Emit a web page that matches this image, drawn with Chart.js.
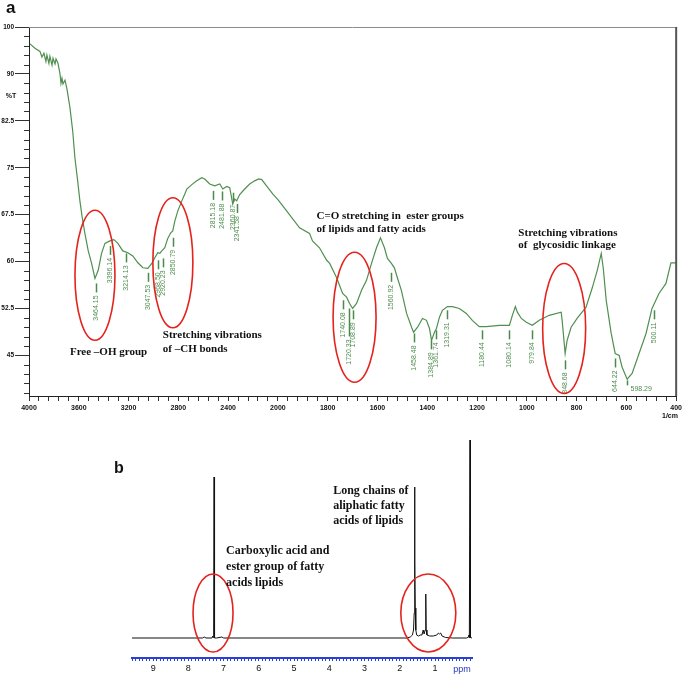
<!DOCTYPE html>
<html>
<head>
<meta charset="utf-8">
<script src="https://cdn.jsdelivr.net/npm/chart.js@4.4.0/dist/chart.umd.min.js"></script>
<style>
  body { margin: 0; background: #fff; }
  #wrap { position: relative; width: 685px; height: 676px; }
  canvas { position: absolute; }
  #ftir { left: 0; top: 0; }
  #nmr { left: 100px; top: 425px; }
</style>
</head>
<body>
<div id="wrap">
  <canvas id="ftir" width="685" height="425"></canvas>
  <canvas id="nmr" width="385" height="251"></canvas>
</div>
<script>
// ---- Panel a: FTIR spectrum (wavenumber in 1/cm, transmittance in %T) ----
const ftirWave = [3992,3952,3912,3896,3880,3864,3856,3840,3832,3815,
  3807,3791,3783,3767,3751,3743,3735,3727,3711,3695,
  3671,3649,3631,3609,3591,3572,3551,3524,3497,3470,
  3444,3417,3390,3350,3318,3286,3246,3206,3166,3125,
  3085,3045,3013,2989,2965,2949,2933,2909,2885,2861,
  2845,2828,2804,2772,2748,2732,2692,2652,2612,2588,
  2548,2508,2467,2443,2411,2387,2363,2347,2331,2307,
  2267,2227,2187,2154,2130,2042,2000,1965,1913,1873,
  1861,1833,1804,1792,1764,1740,1724,1712,1700,1684,
  1664,1644,1624,1604,1588,1572,1560,1544,1532,1520,
  1504,1483,1463,1455,1439,1419,1403,1391,1383,1371,
  1363,1351,1339,1319,1299,1271,1243,1219,1191,1163,
  1110,1070,1058,1046,1038,1022,1002,978,950,910,
  862,858,846,838,822,798,762,737,717,701,
  693,681,661,645,629,617,597,577,549,521,
  497,469,441,421,401];
const ftirT = [94.8,94.1,93.6,92.7,93.3,92.0,93.0,91.7,92.8,91.4,
  92.5,91.6,92.4,91.7,90.0,88.5,89.3,88.4,89.0,87.6,
  84.6,80.9,76.6,72.9,69.7,67.0,64.5,61.7,59.7,57.3,
  58.6,61.3,62.9,63.3,63.5,62.9,61.7,61.4,60.9,59.8,
  59.0,58.9,59.7,60.6,61.4,61.3,61.7,62.2,63.7,64.6,
  64.9,66.5,68.1,69.7,70.8,71.6,72.3,72.9,73.4,73.2,
  72.4,72.1,72.4,71.6,72.0,71.8,69.2,70.0,69.7,70.7,
  71.6,72.4,72.9,73.2,73.1,70.8,69.9,68.1,65.4,64.5,
  63.3,62.2,60.2,59.7,57.4,54.9,54.3,53.3,52.5,53.3,
  55.4,57.0,59.7,62.2,63.8,62.2,60.5,59.7,59.0,57.4,
  55.4,51.7,49.5,48.7,49.5,50.9,50.6,49.3,47.4,48.7,
  49.3,51.1,52.2,52.8,52.8,52.5,51.7,50.6,49.6,49.6,
  49.8,49.8,51.4,52.8,51.9,50.9,50.3,49.8,50.6,51.4,
  51.9,50.6,45.3,47.4,49.5,50.9,52.7,55.8,58.6,61.3,
  59.0,53.8,48.5,45.3,45.0,43.1,41.2,42.1,45.3,48.5,
  52.5,54.9,56.5,59.8,59.8];

// axis labels
const xTickLabels = ['4000','3600','3200','2800','2400','2000','1800','1600','1400','1200','1000','800','600','400'];
const yTickValues = [45, 52.5, 60, 67.5, 75, 82.5, 90, 97.5];
const yTickLabels = ['45', '52.5', '60', '67.5', '75', '82.5', '90', '100'];

// peak labels: text, wavenumber of the marker, %T where the marker starts
const peakText = ['3464.15','3396.14','3214.13','3047.53','2968.50','2920.23','2850.79','2815.18','2481.88','2360.87','2341.58',
  '1740.08','1720.33','1708.89','1560.92','1458.48','1384.89','1361.74','1319.31','1180.44','1080.14','979.84','848.68','644.22','598.29','500.11'];
const peakWave = [3462,3350,3222,3045,2965,2924,2845,2524,2451,2362,2330,
  1737,1716,1700,1544,1455,1383,1363,1319,1179,1070,978,846,645,597,489];
const peakTop = [56.5,62.5,61.3,58.2,60.2,60.5,63.8,71.3,71.2,71.0,69.2,
  53.8,52.5,52.2,58.2,48.5,47.4,49.0,52.2,49.0,49.0,49.0,44.2,44.5,41.0,52.2];

// ---- Panel b: 1H NMR spectrum (ppm, intensity) ----
const nmrPpm = [9.6,7.6,7.55,7.5,7.33,7.31,7.30,7.29,7.275,7.27,7.265,7.25,7.2,7.05,7.0,
  1.8,1.7,1.64,1.61,1.59,1.58,1.575,1.57,1.56,1.545,1.52,1.47,1.42,1.37,1.335,1.31,1.28,1.262,1.25,1.23,
  1.15,1.05,0.95,0.9,0.87,0.84,0.8,0.7,0.5,0.1,0.05,0.035,0.025,0.005,-0.005,-0.05];
const nmrInt = [0,0,1,0,0,2,0.5,3,10,161,1,0,0,1,0,
  0,1,3,8,25,75,151,75,30,8,3,2,3,3,8,4,8,44,8,3,
  2,2,3,5,4,5,2,0.5,0,0,1,3,0.5,210,0.5,0];
const nmrTicks = [1, 2, 3, 4, 5, 6, 7, 8, 9];

// annotations
const ftirNotes = [
  { lines: ['Free \u2013OH group'], w: 3671, t: [45.0] },
  { lines: ['Stretching vibrations', 'of \u2013CH bonds'], w: 2925, t: [47.7, 45.6] },
  { lines: ['C=O stretching in  ester groups', 'of lipids and fatty acids'], w: 1845, t: [66.85, 64.8] },
  { lines: ['Stretching vibrations', 'of  glycosidic linkage'], w: 1034, t: [64.1, 62.2] }
];
const ftirRings = [
  { w: 3470, t: 57.8, rx: 20, ry: 65 },
  { w: 2844, t: 59.8, rx: 20, ry: 65 },
  { w: 1692, t: 51.1, rx: 21.5, ry: 65 },
  { w: 850, t: 49.3, rx: 21.5, ry: 65 }
];
const nmrNotes = [
  { lines: ['Carboxylic acid and', 'ester group of fatty', 'acids lipids'], ppm: 6.93, v: [84, 68, 52] },
  { lines: ['Long chains of', 'aliphatic fatty', 'acids of lipids'], ppm: 3.89, v: [144, 129, 114] }
];
const nmrRings = [
  { ppm: 7.30, v: 25, rx: 20, ry: 39 },
  { ppm: 1.19, v: 25, rx: 27.5, ry: 39 }
];

Chart.defaults.font.family = "'Liberation Sans', Arial, sans-serif";

// the FTIR x axis changes scale at 2000 1/cm
function toU(w) {
  return w >= 2000 ? (4000 - w) / 400 : 5 + (2000 - w) / 200;
}
function isNear(a, b) { return Math.abs(a - b) < 1e-6; }

const RED = '#e4231d';
const GREEN_TXT = '#4f8d4f';

const ftirDecor = {
  id: 'ftirDecor',
  afterDraw(chart) {
    const { ctx, chartArea: a, scales: { x, y } } = chart;
    ctx.save();
    // top and right frame
    ctx.strokeStyle = '#8c8c8c';
    ctx.lineWidth = 1;
    ctx.beginPath(); ctx.moveTo(a.left, a.top + 0.5); ctx.lineTo(a.right, a.top + 0.5); ctx.stroke();
    ctx.strokeStyle = '#555';
    ctx.lineWidth = 2;
    ctx.beginPath(); ctx.moveTo(a.right, a.top); ctx.lineTo(a.right, a.bottom); ctx.stroke();

    // short minor ticks on y
    ctx.strokeStyle = '#333';
    ctx.lineWidth = 1;
    y.ticks.forEach(t => {
      if (yTickValues.some(v => isNear(v, t.value))) return;
      const py = Math.round(y.getPixelForValue(t.value)) + 0.5;
      ctx.beginPath(); ctx.moveTo(a.left - 5, py); ctx.lineTo(a.left, py); ctx.stroke();
    });

    // axis titles
    ctx.fillStyle = '#111';
    ctx.font = "bold 7px 'Liberation Sans', Arial";
    ctx.textAlign = 'center';
    ctx.textBaseline = 'middle';
    ctx.fillText('%T', 11, 96);
    ctx.fillText('1/cm', 670, 416);

    // panel letter
    ctx.font = "bold 17px 'Liberation Sans', Arial";
    ctx.textAlign = 'left';
    ctx.textBaseline = 'alphabetic';
    ctx.fillText('a', 6, 13);

    // peak markers and labels
    ctx.font = "7px 'Liberation Sans', Arial";
    peakText.forEach((txt, i) => {
      const px = Math.round(x.getPixelForValue(toU(peakWave[i]))) + 0.5;
      const py = y.getPixelForValue(peakTop[i]);
      const len = txt === '1720.33' ? 28 : (txt === '598.29' ? 5 : 9);
      ctx.strokeStyle = '#4b8a4b';
      ctx.lineWidth = 1.5;
      ctx.beginPath(); ctx.moveTo(px, py); ctx.lineTo(px, py + len); ctx.stroke();
      ctx.fillStyle = GREEN_TXT;
      if (txt === '598.29') {
        ctx.textAlign = 'left';
        ctx.textBaseline = 'middle';
        ctx.fillText(txt, px + 3, py + len + 4);
        return;
      }
      ctx.save();
      ctx.translate(px, py + len + 3);
      ctx.rotate(-Math.PI / 2);
      ctx.textAlign = 'right';
      ctx.textBaseline = 'middle';
      ctx.fillText(txt, 0, 0);
      ctx.restore();
    });

    // red rings
    ctx.strokeStyle = RED;
    ctx.lineWidth = 1.6;
    ftirRings.forEach(r => {
      ctx.beginPath();
      ctx.ellipse(x.getPixelForValue(toU(r.w)), y.getPixelForValue(r.t), r.rx, r.ry, 0, 0, Math.PI * 2);
      ctx.stroke();
    });

    // notes
    ctx.fillStyle = '#111';
    ctx.font = "bold 11px 'Liberation Serif', 'Times New Roman', serif";
    ctx.textAlign = 'left';
    ctx.textBaseline = 'alphabetic';
    ftirNotes.forEach(n => {
      n.lines.forEach((line, k) => {
        ctx.fillText(line, x.getPixelForValue(toU(n.w)), y.getPixelForValue(n.t[k]));
      });
    });
    ctx.restore();
  }
};

new Chart(document.getElementById('ftir'), {
  type: 'line',
  data: {
    datasets: [{
      data: ftirWave.map((w, i) => ({ x: toU(w), y: ftirT[i] })),
      borderColor: '#4f8f4f',
      borderWidth: 1.2,
      pointRadius: 0,
      tension: 0
    }]
  },
  options: {
    responsive: false,
    animation: false,
    layout: { padding: { top: 27, right: 8, left: 0, bottom: 0 } },
    plugins: { legend: { display: false }, tooltip: { enabled: false } },
    scales: {
      x: {
        type: 'linear',
        min: 0,
        max: 13,
        afterBuildTicks: s => {
          const t = [];
          for (let i = 0; i <= 65; i++) t.push({ value: i / 5 });
          s.ticks = t;
        },
        afterFit: s => { s.height = 29; },
        border: { color: '#222', width: 1 },
        grid: { drawOnChartArea: false, tickLength: 5, tickColor: '#333' },
        ticks: {
          autoSkip: false,
          maxRotation: 0,
          padding: 3,
          color: '#111',
          font: { size: 7, weight: 'bold' },
          callback: v => isNear(v, Math.round(v)) ? xTickLabels[Math.round(v)] : ''
        }
      },
      y: {
        min: 38.5,
        max: 97.5,
        afterBuildTicks: s => {
          const t = [];
          for (let i = 0; i <= 39; i++) t.push({ value: 39 + i * 1.5 });
          s.ticks = t;
        },
        afterFit: s => { s.width = 29; },
        border: { color: '#222', width: 1 },
        grid: {
          drawOnChartArea: false,
          tickLength: 14,
          tickColor: c => (c.tick && yTickValues.some(v => isNear(v, c.tick.value))) ? '#333' : 'rgba(0,0,0,0)'
        },
        ticks: {
          autoSkip: false,
          padding: 1,
          color: '#111',
          font: { size: 6.5, weight: 'bold' },
          callback: v => {
            const k = yTickValues.findIndex(t => isNear(t, v));
            return k >= 0 ? yTickLabels[k] : '';
          }
        }
      }
    }
  },
  plugins: [ftirDecor]
});

const nmrDecor = {
  id: 'nmrDecor',
  afterDraw(chart) {
    const { ctx, scales: { x, y } } = chart;
    ctx.save();
    ctx.fillStyle = '#111';
    ctx.font = "bold 16px 'Liberation Sans', Arial";
    ctx.fillText('b', 14, 48);

    ctx.font = "9px 'Liberation Sans', Arial";
    ctx.fillStyle = '#2636b8';
    ctx.textAlign = 'center';
    ctx.textBaseline = 'middle';
    ctx.fillText('ppm', 362, 245);

    ctx.strokeStyle = RED;
    ctx.lineWidth = 1.6;
    nmrRings.forEach(r => {
      ctx.beginPath();
      ctx.ellipse(x.getPixelForValue(r.ppm), y.getPixelForValue(r.v), r.rx, r.ry, 0, 0, Math.PI * 2);
      ctx.stroke();
    });

    ctx.fillStyle = '#111';
    ctx.font = "bold 12px 'Liberation Serif', 'Times New Roman', serif";
    ctx.textAlign = 'left';
    ctx.textBaseline = 'alphabetic';
    nmrNotes.forEach(n => {
      n.lines.forEach((line, k) => {
        ctx.fillText(line, x.getPixelForValue(n.ppm), y.getPixelForValue(n.v[k]));
      });
    });
    ctx.restore();
  }
};

new Chart(document.getElementById('nmr'), {
  type: 'line',
  data: {
    datasets: [{
      data: nmrPpm.map((p, i) => ({ x: p, y: nmrInt[i] })),
      borderColor: '#111',
      borderWidth: 1,
      pointRadius: 0,
      tension: 0
    }]
  },
  options: {
    responsive: false,
    animation: false,
    layout: { padding: { top: 15, right: 13, left: 32, bottom: 0 } },
    plugins: { legend: { display: false }, tooltip: { enabled: false } },
    scales: {
      x: {
        type: 'linear',
        reverse: true,
        min: -0.05,
        max: 9.6,
        afterBuildTicks: s => {
          const t = [];
          for (let i = 0; i <= 96; i++) t.push({ value: i / 10 });
          s.ticks = t;
        },
        afterFit: s => { s.height = 18; },
        border: { color: '#2a40d4', width: 2 },
        grid: { drawOnChartArea: false, tickLength: 3, tickColor: '#2a40d4' },
        ticks: {
          autoSkip: false,
          maxRotation: 0,
          padding: 2,
          color: '#111',
          font: { size: 9 },
          callback: v => {
            const n = Math.round(v);
            return isNear(v, n) && nmrTicks.includes(n) ? String(n) : '';
          }
        }
      },
      y: { display: false, min: -20, max: 198 }
    }
  },
  plugins: [nmrDecor]
});
</script>
</body>
</html>
